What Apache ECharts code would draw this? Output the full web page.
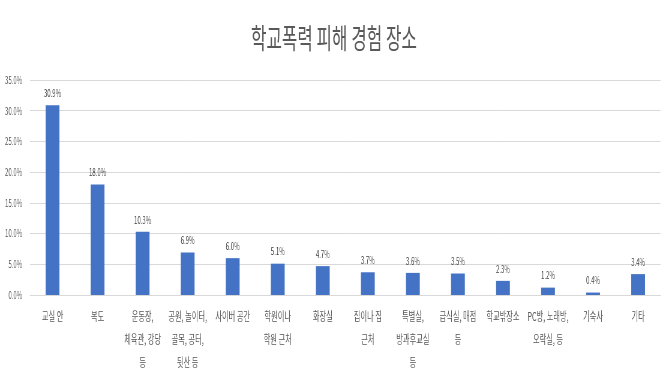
<!DOCTYPE html>
<html><head><meta charset="utf-8">
<script src="https://cdn.jsdelivr.net/npm/echarts@6/dist/echarts.min.js"></script>
<style>html,body{margin:0;padding:0;background:#fff;overflow:hidden;width:668px;height:381px}
#c{width:1113px;height:381px;transform:scaleX(0.6);transform-origin:0 0}</style>
</head><body><div id="c"></div>
<script>
const titleText = '학교폭력 피해 경험 장소';
const categories = ['교실 안','복도','운동장,\n체육관, 강당\n등','공원, 놀이터,\n골목, 공터,\n뒷산 등','사이버 공간','학원이나\n학원 근처','화장실','집이나 집\n근처','특별실,\n방과후교실\n등','급식실, 매점\n등','학교밖장소','PC방, 노래방,\n오락실, 등','기숙사','기타'];
const values = [30.9,18.0,10.3,6.9,6.0,5.1,4.7,3.7,3.6,3.5,2.3,1.2,0.4,3.4];
const yTicks = [0,5,10,15,20,25,30,35];

const chart = echarts.init(document.getElementById('c'));
const font = '"Noto Sans CJK KR", "Noto Sans", sans-serif';
chart.setOption({
  animation:false,
  title:{text:titleText,left:'center',top:19,textStyle:{fontFamily:font,fontSize:28,fontWeight:'normal',color:'#595959'}},
  grid:{left:50,right:12,top:80,bottom:86,containLabel:false},
  xAxis:{type:'category',data:categories,
    axisLine:{show:true,lineStyle:{color:'#d9d9d9'}},axisTick:{show:false},
    axisLabel:{interval:0,margin:10,fontFamily:font,fontSize:12,color:'#595959',lineHeight:23}},
  yAxis:{type:'value',min:yTicks[0],max:yTicks[yTicks.length-1],interval:5,
    axisLine:{show:false},axisTick:{show:false},
    splitLine:{lineStyle:{color:'#d9d9d9'}},
    axisLabel:{margin:13,fontFamily:font,fontSize:10,color:'#595959',formatter:v=>v.toFixed(1)+'%'}},
  series:[{type:'bar',data:values,barWidth:23,itemStyle:{color:'#4472C4'},
    label:{show:true,position:'top',distance:7,fontFamily:font,fontSize:10,color:'#404040',formatter:p=>p.value.toFixed(1)+'%'}}]
});
</script></body></html>
